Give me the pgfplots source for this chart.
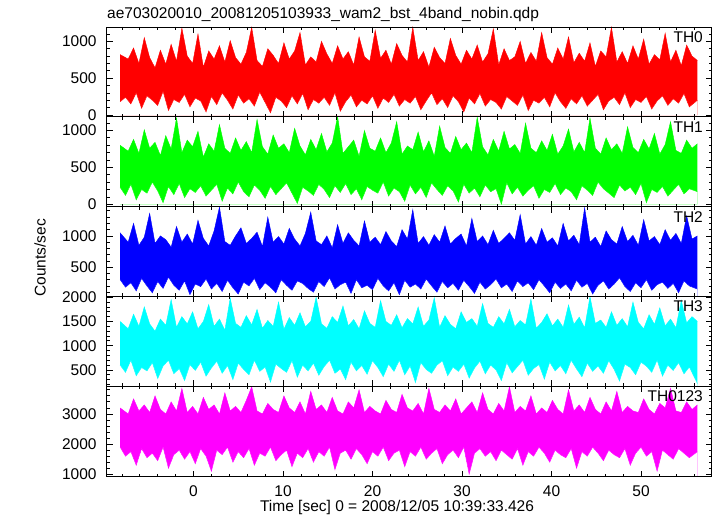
\documentclass[border=0pt]{standalone}
\usepackage{fontspec}
\setmainfont{Liberation Sans}
\usepackage{pgfplots}
\usepackage{pgfplotstable}
\pgfplotsset{compat=1.18}
\definecolor{qred}{RGB}{255,0,0}
\definecolor{qgreen}{RGB}{0,255,0}
\definecolor{qblue}{RGB}{0,0,255}
\definecolor{qcyan}{RGB}{0,255,255}
\definecolor{qmag}{RGB}{255,0,255}

% each row: a low sample (tl, al..el) and the next, high sample (th, ah..eh)
\pgfplotstableread{
tl al bl cl dl el th ah bh ch dh eh
-8.2 180 230 300 600 1900 -8.2 820 800 1050 1500 3200
-7.6 240 120 180 450 1600 -7.3 760 720 900 1350 3000
-7.0 150 270 250 700 1750 -6.7 910 880 1200 1650 3500
-6.4 300 60 120 380 1300 -6.1 700 690 850 1400 3100
-5.8 90 200 320 550 1850 -5.5 1050 1010 980 1800 3300
-5.2 260 150 200 480 1550 -4.9 780 760 1360 1450 3050
-4.6 200 300 90 650 1700 -4.3 640 840 880 1300 3600
-4.0 130 180 270 320 1450 -3.7 880 660 1000 1550 3150
-3.4 320 20 160 580 1900 -3.1 690 930 940 1420 3000
-2.8 60 240 340 700 1200 -2.5 960 750 820 1950 3400
-2.2 210 130 210 420 1650 -1.9 730 1170 1150 1380 3100
-1.6 170 280 130 530 1800 -1.3 1180 700 900 1600 3850
-1.0 280 90 280 280 1500 -0.7 800 870 1030 1450 3050
-0.4 110 210 60 610 1750 -0.1 700 780 870 1700 3250
0.2 230 160 230 490 1350 0.5 1100 990 1250 1350 3000
0.8 190 250 190 660 1850 1.1 650 640 960 1500 3550
1.4 40 110 310 370 1600 1.7 870 820 840 1850 3150
2.0 250 190 150 540 1100 2.3 760 720 1080 1400 3300
2.6 140 270 240 680 1800 2.9 940 1080 1460 1550 3000
3.2 300 40 110 430 1650 3.5 720 760 910 1320 3700
3.8 200 220 290 590 1900 4.1 1010 690 850 1980 3100
4.4 80 140 170 300 1400 4.7 780 900 1000 1460 3250
5.0 270 300 70 640 1750 5.3 690 730 1130 1380 3050
5.6 160 170 260 510 1550 5.9 850 850 880 1620 3450
6.2 220 100 200 400 1850 6.5 1190 700 960 1430 3900
6.8 120 260 320 700 1300 7.1 740 1150 1060 1750 3100
7.4 310 190 140 470 1700 7.7 660 780 830 1360 3000
8.0 170 80 250 560 1600 8.3 900 680 1300 1520 3350
8.6 30 240 180 250 1900 8.9 810 940 900 1400 3150
9.2 240 130 90 620 1450 9.5 700 760 990 1900 3050
9.8 190 210 300 530 1650 10.1 980 820 870 1340 3600
10.4 100 290 210 450 1800 10.7 760 700 1120 1580 3200
11.0 260 150 130 690 1250 11.3 870 1030 950 1420 3050
11.6 150 10 280 350 1700 11.9 1120 790 840 1680 3400
12.2 290 230 240 600 1550 12.5 680 670 1040 1390 3000
12.8 70 180 160 480 1850 13.1 790 880 1380 1500 3750
13.4 210 120 100 640 1400 13.7 720 740 920 2000 3150
14.0 160 270 270 390 1750 14.3 1000 960 860 1450 3300
14.6 240 200 190 570 1600 14.9 830 710 1000 1360 3050
15.2 130 90 330 700 1900 15.5 700 830 810 1600 3550
15.8 300 250 150 430 1150 16.1 940 1190 1180 1480 3100
16.4 50 160 220 520 1700 16.7 760 690 880 1820 3000
17.0 180 280 260 300 1800 17.3 860 780 1050 1410 3400
17.6 270 130 80 660 1500 17.9 680 870 930 1540 3200
18.2 110 210 300 480 1850 18.5 1060 650 840 1350 3800
18.8 200 60 170 590 1650 19.1 790 1000 1240 1720 3050
19.4 150 240 210 410 1350 19.7 730 760 900 1460 3250
20.0 260 190 140 690 1750 20.3 1150 720 980 1380 3100
20.6 90 150 320 550 1600 20.9 770 900 860 1930 3000
21.2 230 300 200 360 1900 21.5 880 700 1070 1500 3450
21.8 170 110 120 620 1450 22.1 690 830 920 1420 3150
22.4 280 220 250 470 1700 22.7 970 1120 830 1640 3050
23.0 120 170 60 700 1800 23.3 810 680 1100 1370 3650
23.6 210 40 290 400 1250 23.9 720 790 950 1560 3200
24.2 160 260 180 580 1750 24.5 1190 740 1420 1450 3100
24.8 250 140 230 240 1600 25.1 740 980 880 1800 3350
25.4 70 230 150 650 1900 25.7 860 710 990 1400 3000
26.0 190 90 310 510 1500 26.3 650 860 850 1530 3850
26.6 300 290 200 430 1700 26.9 920 650 1020 1990 3150
27.2 140 200 100 600 1850 27.5 780 1060 900 1380 3050
27.8 220 120 270 690 1350 28.1 700 770 1160 1620 3300
28.4 100 250 170 380 1650 28.7 1040 690 870 1440 3100
29.0 260 180 240 560 1800 29.3 810 920 960 1350 3500
29.6 180 30 130 470 1550 29.9 690 740 1030 1700 3000
30.2 40 270 290 620 1900 30.5 880 830 840 1480 3200
30.8 230 150 190 330 1000 31.1 760 700 1280 1560 3400
31.4 150 220 80 540 1700 31.7 950 1180 910 1400 3050
32.0 290 100 260 680 1850 32.3 720 780 1000 1870 3700
32.6 120 260 150 420 1600 32.9 830 670 860 1460 3150
33.2 210 170 220 600 1750 33.5 1170 880 1090 1380 3000
33.8 170 210 310 500 1450 34.1 680 720 880 1600 3350
34.4 80 0 170 280 1800 34.7 900 990 960 1450 3100
35.0 250 290 230 650 1650 35.3 740 750 1050 1750 3900
35.6 190 140 110 440 1500 35.9 790 810 930 1390 3050
36.2 130 230 280 570 1850 36.5 1000 690 1340 1520 3250
36.8 270 110 190 700 1300 37.1 700 1100 870 1430 3100
37.4 60 190 250 390 1750 37.7 850 760 990 1960 3600
38.0 200 250 140 530 1600 38.3 730 700 850 1360 3000
38.6 160 80 300 610 1900 38.9 1120 860 1120 1480 3200
39.2 240 200 200 310 1700 39.5 780 730 900 1660 3050
39.8 110 160 90 660 1400 40.1 690 950 970 1410 3450
40.4 300 280 260 480 1800 40.7 910 680 840 1550 3150
41.0 180 130 160 590 1650 41.3 760 790 1200 1380 3000
41.6 90 220 230 420 1550 41.9 1060 1020 920 1840 3800
42.2 220 170 120 700 1850 42.5 710 710 1010 1440 3100
42.8 150 60 290 520 1200 43.1 840 840 860 1590 3300
43.4 260 250 180 360 1750 43.7 730 700 1450 1370 3050
44.0 120 190 240 640 1600 44.3 980 1170 900 2010 3550
44.6 200 120 70 470 1900 44.9 660 760 980 1460 3150
45.2 280 300 210 580 1700 45.5 870 680 830 1530 3000
45.8 70 210 280 430 1450 46.1 790 900 1080 1380 3400
46.4 190 150 150 690 1800 46.7 1190 740 940 1700 3100
47.0 240 90 230 510 1650 47.3 720 820 870 1420 3750
47.6 140 260 330 270 1550 47.9 860 690 1150 1560 3050
48.2 300 180 190 620 1850 48.5 700 1050 910 1390 3250
48.8 100 230 110 550 1300 49.1 940 770 1010 1900 3100
49.4 210 130 250 400 1700 49.7 760 700 850 1480 3050
50.0 170 280 170 660 1900 50.3 1030 880 1260 1350 3500
50.6 250 20 300 580 1600 50.9 690 750 920 1640 3150
51.2 80 200 130 450 1750 51.5 820 960 990 1440 3000
51.8 190 160 220 700 1100 52.1 750 680 860 1780 3350
52.4 260 240 260 370 1800 52.7 1110 810 1100 1410 3200
53.0 130 110 160 600 1650 53.3 720 1120 930 1550 3850
53.6 220 190 240 490 1500 53.9 880 730 1040 1370 3100
54.2 160 270 90 650 1850 54.5 670 690 880 1930 3050
54.8 290 140 280 420 1700 55.1 950 870 1320 1470 3400
55.4 110 210 200 560 1550 55.7 800 760 950 1600 3150
56.3 200 170 150 220 1750 56.3 740 820 1000 1500 3300
}\data

\pgfplotsset{
  panel/.style={
    anchor=north west, width=605bp, scale only axis,
    xmin=-9.7, xmax=57.9,
    xtick={0,10,20,30,40,50},
    minor xtick={-8,-6,...,56},
    tick align=inside,
    major tick length=6bp, minor tick length=3bp,
    axis line style={line width=0.8bp, black},
    every tick/.style={line width=0.8bp, black},
    /pgf/number format/assume math mode=true,
    /pgf/number format/1000 sep={},
    scaled ticks=false,
    yticklabel style={anchor=east, inner sep=0pt, xshift=-10bp},
    xticklabel style={anchor=north, inner sep=0pt, yshift=-8.5bp},
    axis on top,
  },
}
\tikzset{lab/.style={anchor=north east, inner sep=0pt, xshift=-8.7bp, yshift=-4.7bp}}

\begin{document}
\fontsize{15.5bp}{18bp}\selectfont
\begin{tikzpicture}
\path[use as bounding box] (0,0) rectangle (717bp,-516bp);

% TH0
\begin{axis}[panel, at={(106.7bp,-27bp)}, height=89.5bp,
  ymin=-20, ymax=1195, ytick={0,500,1000}, minor ytick={0,100,...,1100},
  xticklabels={}]
\addplot[fill=qred, draw=none] table[x=th, y=ah] {\data} \closedcycle;
\addplot[fill=white, draw=none] table[x=tl, y=al] {\data} \closedcycle;
\addplot[qred, line width=0.4bp] table[x=th, y=ah] {\data};
\addplot[qred, line width=0.4bp] table[x=tl, y=al] {\data};
\node[lab] at (rel axis cs:1,1) {TH0};
\end{axis}

% TH1
\begin{axis}[panel, at={(106.7bp,-116.5bp)}, height=90bp,
  ymin=-30, ymax=1190, ytick={0,500,1000}, minor ytick={0,100,...,1100},
  xticklabels={}]
\addplot[fill=qgreen, draw=none] table[x=th, y=bh] {\data} \closedcycle;
\addplot[fill=white, draw=none] table[x=tl, y=bl] {\data} \closedcycle;
\addplot[qgreen, line width=0.4bp] table[x=th, y=bh] {\data};
\addplot[qgreen, line width=0.4bp] table[x=tl, y=bl] {\data};
\node[lab] at (rel axis cs:1,1) {TH1};
\end{axis}

% TH2
\begin{axis}[panel, at={(106.7bp,-206.5bp)}, height=89.5bp,
  ymin=40, ymax=1470, ytick={500,1000}, minor ytick={100,200,...,1400},
  xticklabels={}]
\addplot[fill=qblue, draw=none] table[x=th, y=ch] {\data} \closedcycle;
\addplot[fill=white, draw=none] table[x=tl, y=cl] {\data} \closedcycle;
\addplot[qblue, line width=0.4bp] table[x=th, y=ch] {\data};
\addplot[qblue, line width=0.4bp] table[x=tl, y=cl] {\data};
\node[lab] at (rel axis cs:1,1) {TH2};
\end{axis}

% TH3
\begin{axis}[panel, at={(106.7bp,-296bp)}, height=90bp,
  ymin=170, ymax=2025, ytick={500,1000,1500,2000}, minor ytick={200,300,...,2000},
  xticklabels={}]
\addplot[fill=qcyan, draw=none] table[x=th, y=dh] {\data} \closedcycle;
\addplot[fill=white, draw=none] table[x=tl, y=dl] {\data} \closedcycle;
\addplot[qcyan, line width=0.4bp] table[x=th, y=dh] {\data};
\addplot[qcyan, line width=0.4bp] table[x=tl, y=dl] {\data};
\node[lab] at (rel axis cs:1,1) {TH3};
\end{axis}

% TH0123
\begin{axis}[panel, at={(106.7bp,-386bp)}, height=90.5bp,
  ymin=930, ymax=3925, ytick={1000,2000,3000}, minor ytick={1000,1200,...,3800}]
\addplot[fill=qmag, draw=none] table[x=th, y=eh] {\data} \closedcycle;
\addplot[fill=white, draw=none] table[x=tl, y=el] {\data} \closedcycle;
\addplot[qmag, line width=0.4bp] table[x=th, y=eh] {\data};
\addplot[qmag, line width=0.4bp] table[x=tl, y=el] {\data};
\node[lab] at (rel axis cs:1,1) {TH0123};
\end{axis}

\node[anchor=base west, inner sep=0pt] at (107bp,-18.3bp) {ae703020010\_20081205103933\_wam2\_bst\_4band\_nobin.qdp};
\node[anchor=base, inner sep=0pt] at (397bp,-511.5bp) {Time [sec] 0 = 2008/12/05 10:39:33.426};
\node[anchor=base, inner sep=0pt, rotate=90] at (45.7bp,-258bp) {Counts/sec};
\end{tikzpicture}
\end{document}
